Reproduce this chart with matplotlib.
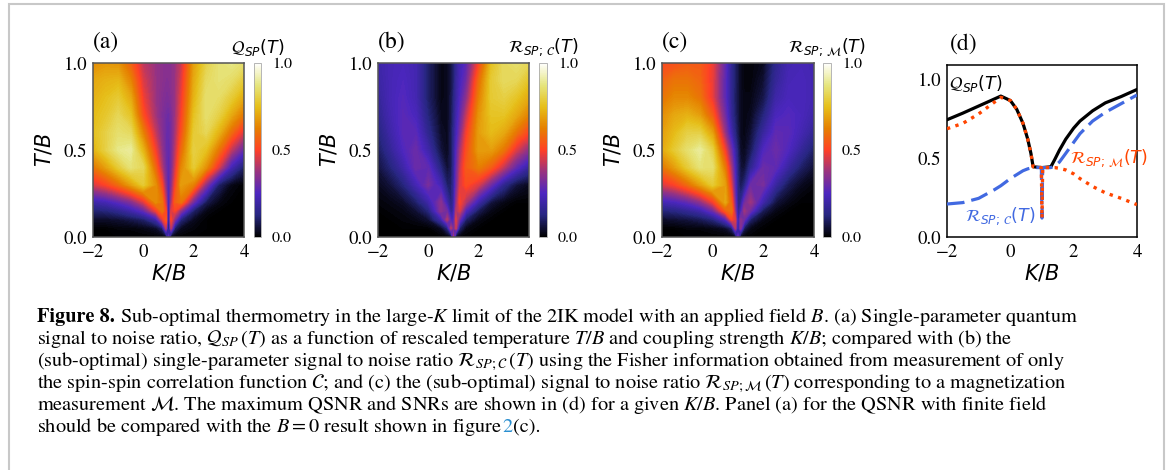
import matplotlib

matplotlib.use("Agg")

import matplotlib.pyplot as plt
import numpy as np
from matplotlib import transforms
from matplotlib.cm import ScalarMappable
from matplotlib.colors import Normalize
from matplotlib.patches import Rectangle

# ---- data ------------------------------------------------------------------
K_GRID = [-2, -1.5, -1, -0.5, 0, 0.5, 0.75, 0.9, 1, 1.1, 1.25, 1.5, 2, 2.5, 3, 3.5, 4]
T_GRID = [0, 0.05, 0.1, 0.15, 0.2, 0.3, 0.4, 0.5, 0.6, 0.7, 0.8, 0.9, 1.0]

# (a) Q_SP(T), one row per T_GRID entry
QSP_MAP = [
    [0, 0, 0, 0, 0, 0, 0, 0, 0.3, 0, 0, 0, 0, 0, 0, 0, 0],
    [0, 0, 0.01, 0.01, 0.02, 0.04, 0.1, 0.4, 0.06, 0.4, 0.1, 0.03, 0.01, 0, 0, 0, 0],
    [0.04, 0.04, 0.05, 0.07, 0.1, 0.2, 0.45, 0.55, 0.12, 0.5, 0.35, 0.12, 0.03, 0, 0, 0, 0],
    [0.11, 0.12, 0.15, 0.2, 0.28, 0.48, 0.6, 0.5, 0.15, 0.45, 0.5, 0.35, 0.1, 0.02, 0, 0, 0],
    [0.2, 0.22, 0.27, 0.33, 0.45, 0.65, 0.6, 0.42, 0.2, 0.38, 0.55, 0.6, 0.3, 0.08, 0.02, 0, 0],
    [0.45, 0.5, 0.58, 0.68, 0.78, 0.65, 0.5, 0.34, 0.25, 0.33, 0.48, 0.68, 0.62, 0.35, 0.1, 0.02, 0],
    [0.6, 0.68, 0.78, 0.86, 0.82, 0.56, 0.4, 0.31, 0.27, 0.31, 0.43, 0.63, 0.78, 0.65, 0.45, 0.22, 0.1],
    [0.72, 0.8, 0.88, 0.9, 0.72, 0.48, 0.36, 0.3, 0.28, 0.31, 0.4, 0.57, 0.8, 0.75, 0.6, 0.42, 0.28],
    [0.75, 0.8, 0.85, 0.83, 0.62, 0.42, 0.34, 0.3, 0.29, 0.31, 0.38, 0.52, 0.78, 0.82, 0.72, 0.58, 0.45],
    [0.74, 0.77, 0.82, 0.76, 0.52, 0.38, 0.33, 0.31, 0.3, 0.32, 0.37, 0.49, 0.75, 0.85, 0.8, 0.7, 0.6],
    [0.72, 0.75, 0.78, 0.7, 0.48, 0.37, 0.34, 0.33, 0.33, 0.34, 0.37, 0.47, 0.72, 0.85, 0.84, 0.78, 0.7],
    [0.7, 0.72, 0.73, 0.63, 0.45, 0.37, 0.35, 0.34, 0.34, 0.35, 0.37, 0.45, 0.7, 0.83, 0.86, 0.84, 0.78],
    [0.65, 0.67, 0.66, 0.56, 0.42, 0.37, 0.35, 0.35, 0.35, 0.35, 0.37, 0.43, 0.68, 0.8, 0.86, 0.88, 0.85],
]

# (b) R_SP;C(T)
RC_MAP = [
    [0, 0, 0, 0, 0, 0, 0, 0, 0.4, 0, 0, 0, 0, 0, 0, 0, 0],
    [0, 0, 0, 0, 0, 0.03, 0.12, 0.4, 0.3, 0.42, 0.1, 0.02, 0, 0, 0, 0, 0],
    [0, 0, 0.01, 0.02, 0.05, 0.2, 0.4, 0.25, 0.25, 0.45, 0.3, 0.1, 0.02, 0, 0, 0, 0],
    [0, 0.01, 0.02, 0.05, 0.12, 0.35, 0.3, 0.15, 0.2, 0.4, 0.45, 0.25, 0.08, 0.02, 0, 0, 0],
    [0.01, 0.02, 0.04, 0.1, 0.2, 0.35, 0.2, 0.12, 0.18, 0.35, 0.5, 0.4, 0.2, 0.06, 0.02, 0, 0],
    [0.03, 0.06, 0.12, 0.22, 0.32, 0.22, 0.1, 0.1, 0.16, 0.3, 0.45, 0.52, 0.45, 0.3, 0.15, 0.06, 0.03],
    [0.06, 0.12, 0.2, 0.3, 0.28, 0.12, 0.05, 0.08, 0.15, 0.28, 0.42, 0.55, 0.62, 0.55, 0.42, 0.28, 0.18],
    [0.09, 0.17, 0.25, 0.3, 0.2, 0.06, 0.03, 0.08, 0.15, 0.25, 0.38, 0.52, 0.68, 0.68, 0.6, 0.45, 0.35],
    [0.12, 0.2, 0.27, 0.27, 0.15, 0.04, 0.03, 0.08, 0.14, 0.22, 0.32, 0.48, 0.68, 0.74, 0.7, 0.6, 0.5],
    [0.15, 0.22, 0.27, 0.24, 0.12, 0.03, 0.03, 0.07, 0.13, 0.2, 0.28, 0.42, 0.66, 0.76, 0.76, 0.7, 0.62],
    [0.17, 0.23, 0.26, 0.22, 0.1, 0.02, 0.03, 0.07, 0.12, 0.18, 0.25, 0.35, 0.62, 0.78, 0.8, 0.76, 0.7],
    [0.19, 0.23, 0.25, 0.22, 0.1, 0.02, 0.03, 0.06, 0.1, 0.17, 0.23, 0.3, 0.58, 0.78, 0.83, 0.82, 0.76],
    [0.2, 0.23, 0.24, 0.22, 0.1, 0.02, 0.03, 0.06, 0.1, 0.16, 0.22, 0.27, 0.5, 0.75, 0.83, 0.85, 0.82],
]

# (c) R_SP;M(T)
RM_MAP = [
    [0, 0, 0, 0, 0, 0, 0, 0, 0.3, 0, 0, 0, 0, 0, 0, 0, 0],
    [0, 0, 0.01, 0.01, 0.02, 0.04, 0.1, 0.4, 0.12, 0.35, 0.08, 0.02, 0, 0, 0, 0, 0],
    [0.04, 0.05, 0.06, 0.08, 0.12, 0.25, 0.5, 0.45, 0.15, 0.35, 0.3, 0.1, 0.02, 0, 0, 0, 0],
    [0.12, 0.13, 0.16, 0.2, 0.3, 0.55, 0.6, 0.35, 0.15, 0.22, 0.38, 0.3, 0.08, 0.02, 0, 0, 0],
    [0.22, 0.24, 0.28, 0.35, 0.48, 0.7, 0.55, 0.3, 0.14, 0.15, 0.3, 0.38, 0.2, 0.06, 0.02, 0, 0],
    [0.45, 0.5, 0.58, 0.68, 0.78, 0.68, 0.45, 0.25, 0.13, 0.08, 0.12, 0.3, 0.32, 0.18, 0.08, 0.03, 0.01],
    [0.6, 0.68, 0.78, 0.86, 0.85, 0.6, 0.38, 0.22, 0.12, 0.06, 0.05, 0.15, 0.3, 0.28, 0.18, 0.1, 0.05],
    [0.7, 0.78, 0.85, 0.9, 0.8, 0.48, 0.3, 0.18, 0.1, 0.04, 0.03, 0.08, 0.25, 0.3, 0.25, 0.17, 0.1],
    [0.68, 0.74, 0.8, 0.8, 0.68, 0.36, 0.2, 0.12, 0.07, 0.03, 0.02, 0.05, 0.18, 0.28, 0.27, 0.22, 0.16],
    [0.65, 0.7, 0.72, 0.68, 0.55, 0.3, 0.16, 0.1, 0.06, 0.03, 0.02, 0.03, 0.12, 0.24, 0.26, 0.24, 0.2],
    [0.6, 0.64, 0.64, 0.6, 0.47, 0.27, 0.15, 0.09, 0.06, 0.03, 0.02, 0.02, 0.07, 0.2, 0.24, 0.24, 0.22],
    [0.56, 0.6, 0.6, 0.57, 0.47, 0.27, 0.15, 0.1, 0.06, 0.03, 0.01, 0.01, 0.05, 0.17, 0.23, 0.24, 0.22],
    [0.52, 0.53, 0.55, 0.55, 0.48, 0.28, 0.15, 0.1, 0.06, 0.03, 0.01, 0.01, 0.03, 0.15, 0.22, 0.23, 0.22],
]

# (d) maxima over T for each K/B
K_LINE = [-2, -1.5, -1, -0.5, -0.3, 0, 0.2, 0.4, 0.55, 0.65, 0.72, 0.98, 1.0, 1.02,
          1.28, 1.4, 1.55, 1.75, 2.0, 2.2, 2.6, 3.0, 3.5, 4.0]
QSP_MAX = [0.743, 0.785, 0.83, 0.875, 0.893, 0.865, 0.81, 0.72, 0.62, 0.53, 0.445, 0.44, 0.44, 0.44,
           0.445, 0.49, 0.55, 0.62, 0.69, 0.735, 0.8, 0.85, 0.89, 0.935]
RC_MAX = [0.209, 0.218, 0.245, 0.3, 0.325, 0.37, 0.395, 0.42, 0.432, 0.437, 0.44, 0.44, 0.12, 0.44,
          0.44, 0.45, 0.475, 0.53, 0.6, 0.655, 0.735, 0.79, 0.845, 0.9]
RM_MAX = [0.686, 0.72, 0.78, 0.855, 0.885, 0.865, 0.81, 0.72, 0.62, 0.53, 0.445, 0.44, 0.12, 0.44,
          0.44, 0.44, 0.435, 0.425, 0.4, 0.37, 0.32, 0.28, 0.245, 0.205]

CAPTION = [
    r"Sub-optimal thermometry in the large-$K$ limit of the 2IK model with an applied field $B$. (a) Single-parameter quantum",
    r"signal to noise ratio, $\mathcal{Q}_{SP}\,(T)$ as a function of rescaled temperature $T/B$ and coupling strength $K/B$; compared with (b) the",
    r"(sub-optimal) single-parameter signal to noise ratio $\mathcal{R}_{SP;\mathcal{C}}\,(T)$ using the Fisher information obtained from measurement of only",
    r"the spin-spin correlation function $\mathcal{C}$; and (c) the (sub-optimal) signal to noise ratio $\mathcal{R}_{SP;\mathcal{M}}\,(T)$ corresponding to a magnetization",
    r"measurement $\mathcal{M}$. The maximum QSNR and SNRs are shown in (d) for a given $K/B$. Panel (a) for the QSNR with finite field",
    r"should be compared with the $B=0$ result shown in figure ",
]

W, H = 1168, 470
plt.rcParams.update({"font.family": "STIXGeneral", "mathtext.fontset": "dejavusans"})
fig = plt.figure(figsize=(W / 100, H / 100), dpi=100)


def px_axes(left, top, right, bottom):
    return fig.add_axes([left / W, 1 - bottom / H, (right - left) / W, (bottom - top) / H])


def style_axes(ax, edge):
    ax.set_xlim(-2, 4)
    ax.set_xticks([-2, 0, 2, 4])
    ax.tick_params(length=0, labelsize=13.5, pad=5)
    ax.tick_params(axis="y", pad=4)
    for sp in ax.spines.values():
        sp.set_color(edge)
        sp.set_linewidth(1.1)
    ax.set_xlabel(r"$K/B$", fontsize=15, math_fontfamily="dejavusans", labelpad=2)


cmap = plt.get_cmap("CMRmap")
norm = Normalize(0, 1)
levels = np.linspace(0, 1, 121)

heat = [
    (QSP_MAP, (93, 63, 244, 237), (254, 63, 261, 237), r"$\mathcal{Q}_{SP}(T)$", "(a)"),
    (RC_MAP, (378, 63, 529, 237), (539, 63, 547, 237), r"$\mathcal{R}_{SP;\,\mathcal{C}}(T)$", "(b)"),
    (RM_MAP, (662, 63, 814, 237), (823, 63, 831, 237), r"$\mathcal{R}_{SP;\,\mathcal{M}}(T)$", "(c)"),
]

for data, box, cbox, title, tag in heat:
    ax = px_axes(*box)
    ax.contourf(K_GRID, T_GRID, np.array(data), levels=levels, cmap=cmap, norm=norm,
                extend="both")
    ax.set_ylim(0, 1)
    ax.set_yticks([0, 0.5, 1.0])
    style_axes(ax, "#555555")
    ax.set_ylabel(r"$T/B$", fontsize=15, math_fontfamily="dejavusans", labelpad=6)

    cax = px_axes(*cbox)
    cb = fig.colorbar(ScalarMappable(norm=norm, cmap=cmap), cax=cax, ticks=[0, 0.5, 1.0])
    cb.ax.tick_params(length=0, labelsize=11.5, pad=8)
    cb.outline.set_edgecolor("#aaaaaa")
    cb.outline.set_linewidth(0.6)
    cb.ax.set_yticklabels(["0.0", "0.5", "1.0"])

    fig.text((cbox[0] + cbox[2]) / 2 / W, 1 - 47 / H, title, ha="center", va="center",
             fontsize=12.5, math_fontfamily="dejavusans")
    fig.text(box[0] / W, 1 - 42 / H, tag, ha="left", va="center", fontsize=17)

# panel (d)
axd = px_axes(947, 65, 1137, 237)
axd.plot(K_LINE, QSP_MAX, color="black", lw=2.3, zorder=2)
axd.plot(K_LINE, RC_MAX, color="royalblue", lw=2.3, dashes=(5.5, 2.2), zorder=3)
axd.plot(K_LINE, RM_MAX, color="orangered", lw=2.4, ls=":", zorder=4)
axd.set_ylim(0, 1.09)
axd.set_yticks([0, 0.5, 1.0])
style_axes(axd, "black")
axd.text(-1.93, 0.97, r"$\mathcal{Q}_{SP}(T)$", color="black", fontsize=12.5, va="center")
axd.text(1.88, 0.50, r"$\mathcal{R}_{SP;\,\mathcal{M}}(T)$", color="orangered", fontsize=12.5, va="center")
axd.text(-1.43, 0.133, r"$\mathcal{R}_{SP;\,\mathcal{C}}(T)$", color="royalblue", fontsize=12.5, va="center")
fig.text(950 / W, 1 - 44 / H, "(d)", ha="left", va="center", fontsize=17)

# caption
renderer = fig.canvas.get_renderer()
cap_kw = dict(fontsize=14.6, family="STIXGeneral", math_fontfamily="stix", va="baseline")


def chain(x, y, parts):
    trans = fig.transFigure
    for s, extra in parts:
        t = fig.text(x, y, s, transform=trans, **cap_kw, **extra)
        t.draw(renderer)
        ex = t.get_window_extent(renderer)
        trans = transforms.offset_copy(t.get_transform(), fig=fig, x=ex.width, units="dots")


x0 = 37 / W
for i, line in enumerate(CAPTION):
    y = 1 - (322 + 22 * i) / H
    if i == 0:
        chain(x0, y, [("Figure 8.", {"weight": "bold"}), (" " + line, {})])
    elif i == 5:
        chain(x0, y, [(line, {}), ("2", {"color": "#2a8fd0"}), ("(c).", {})])
    else:
        fig.text(x0, y, line, **cap_kw)

fig.patches.append(Rectangle((9 / W, -0.05), (1164 - 9) / W, 1.05 - 4 / H, transform=fig.transFigure,
                             fill=False, edgecolor="#c8c8c8", lw=1.5))

fig.savefig("out.png", dpi=100)
